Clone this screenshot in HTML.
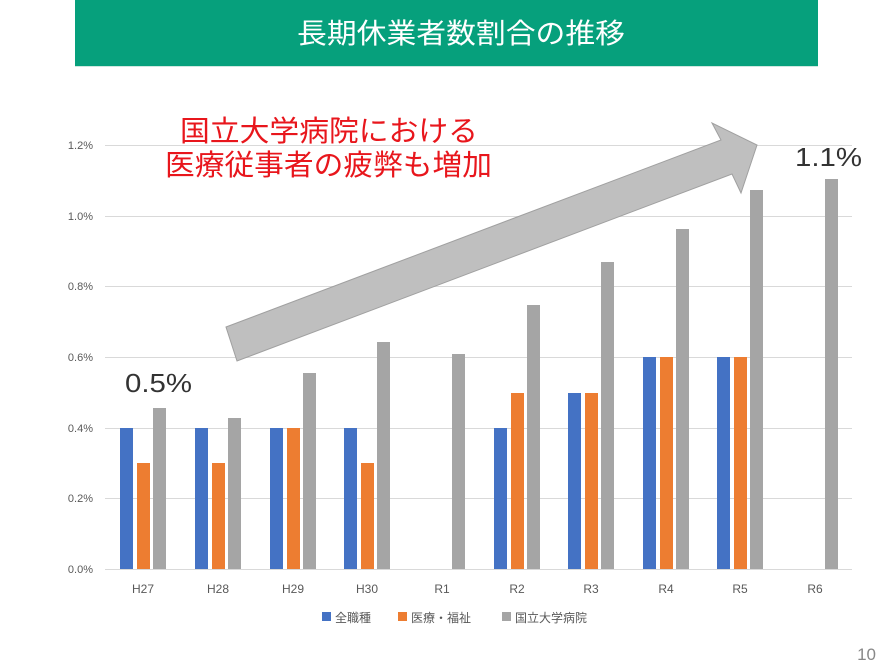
<!DOCTYPE html>
<html><head><meta charset="utf-8"><style>
body{margin:0;background:#fff;}
svg text{font-family:"Liberation Sans","Noto Sans CJK JP",sans-serif;}
</style></head><body>
<svg width="894" height="664" viewBox="0 0 894 664" xmlns="http://www.w3.org/2000/svg">
<rect x="0" y="0" width="894" height="664" fill="#fff"/>
<rect x="75" y="0" width="743" height="66" fill="#06a07c"/>
<rect x="75" y="66" width="743" height="1" fill="#cfe8e0"/>
<text x="297" y="43" font-size="28" fill="#fff" textLength="328" lengthAdjust="spacingAndGlyphs">長期休業者数割合の推移</text>
<g stroke="#d9d9d9" stroke-width="1">
<line x1="105" y1="145.5" x2="852" y2="145.5"/>
<line x1="105" y1="216.5" x2="852" y2="216.5"/>
<line x1="105" y1="286.5" x2="852" y2="286.5"/>
<line x1="105" y1="357.5" x2="852" y2="357.5"/>
<line x1="105" y1="428.5" x2="852" y2="428.5"/>
<line x1="105" y1="498.5" x2="852" y2="498.5"/>
<line x1="105" y1="569.5" x2="852" y2="569.5"/>
</g>
<g font-size="11" fill="#595959" text-anchor="end">
<text x="93" y="149">1.2%</text><text x="93" y="220">1.0%</text><text x="93" y="290">0.8%</text>
<text x="93" y="361">0.6%</text><text x="93" y="432">0.4%</text><text x="93" y="502">0.2%</text><text x="93" y="573">0.0%</text>
</g>
<g>
<rect x="120" y="428" width="13" height="141" fill="#4472c4"/><rect x="137" y="463" width="13" height="106" fill="#ed7d31"/><rect x="153" y="408" width="13" height="161" fill="#a5a5a5"/>
<rect x="195" y="428" width="13" height="141" fill="#4472c4"/><rect x="212" y="463" width="13" height="106" fill="#ed7d31"/><rect x="228" y="418" width="13" height="151" fill="#a5a5a5"/>
<rect x="270" y="428" width="13" height="141" fill="#4472c4"/><rect x="287" y="428" width="13" height="141" fill="#ed7d31"/><rect x="303" y="373" width="13" height="196" fill="#a5a5a5"/>
<rect x="344" y="428" width="13" height="141" fill="#4472c4"/><rect x="361" y="463" width="13" height="106" fill="#ed7d31"/><rect x="377" y="342" width="13" height="227" fill="#a5a5a5"/>
<rect x="452" y="354" width="13" height="215" fill="#a5a5a5"/>
<rect x="494" y="428" width="13" height="141" fill="#4472c4"/><rect x="511" y="393" width="13" height="176" fill="#ed7d31"/><rect x="527" y="305" width="13" height="264" fill="#a5a5a5"/>
<rect x="568" y="393" width="13" height="176" fill="#4472c4"/><rect x="585" y="393" width="13" height="176" fill="#ed7d31"/><rect x="601" y="262" width="13" height="307" fill="#a5a5a5"/>
<rect x="643" y="357" width="13" height="212" fill="#4472c4"/><rect x="660" y="357" width="13" height="212" fill="#ed7d31"/><rect x="676" y="229" width="13" height="340" fill="#a5a5a5"/>
<rect x="717" y="357" width="13" height="212" fill="#4472c4"/><rect x="734" y="357" width="13" height="212" fill="#ed7d31"/><rect x="750" y="190" width="13" height="379" fill="#a5a5a5"/>
<rect x="825" y="179" width="13" height="390" fill="#a5a5a5"/>
</g>
<g font-size="12" fill="#595959" text-anchor="middle">
<text x="143" y="593">H27</text><text x="218" y="593">H28</text><text x="293" y="593">H29</text><text x="367" y="593">H30</text><text x="442" y="593">R1</text>
<text x="517" y="593">R2</text><text x="591" y="593">R3</text><text x="666" y="593">R4</text><text x="740" y="593">R5</text><text x="815" y="593">R6</text>
</g>
<g font-size="12" fill="#595959">
<rect x="322" y="612" width="9" height="9" fill="#4472c4"/><text x="335" y="622">全職種</text>
<rect x="398" y="612" width="9" height="9" fill="#ed7d31"/><text x="411" y="622">医療・福祉</text>
<rect x="502" y="612" width="9" height="9" fill="#a5a5a5"/><text x="515" y="622">国立大学病院</text>
</g>
<polygon points="226,327 721,140 712,123 757,145 741,193 732,174 237,361" fill="#bfbfbf" stroke="#a0a0a0" stroke-width="1"/>
<text x="180" y="141" font-size="29" fill="#e8161c" textLength="298" lengthAdjust="spacingAndGlyphs">国立大学病院における</text>
<text x="165" y="175" font-size="29" fill="#e8161c" textLength="327" lengthAdjust="spacingAndGlyphs">医療従事者の疲弊も増加</text>
<text x="125" y="392" font-size="26" fill="#333" textLength="67" lengthAdjust="spacingAndGlyphs">0.5%</text>
<text x="795" y="166" font-size="26" fill="#333" textLength="67" lengthAdjust="spacingAndGlyphs">1.1%</text>
<text x="876" y="660" font-size="17" fill="#888" text-anchor="end">10</text>
</svg>
</body></html>
